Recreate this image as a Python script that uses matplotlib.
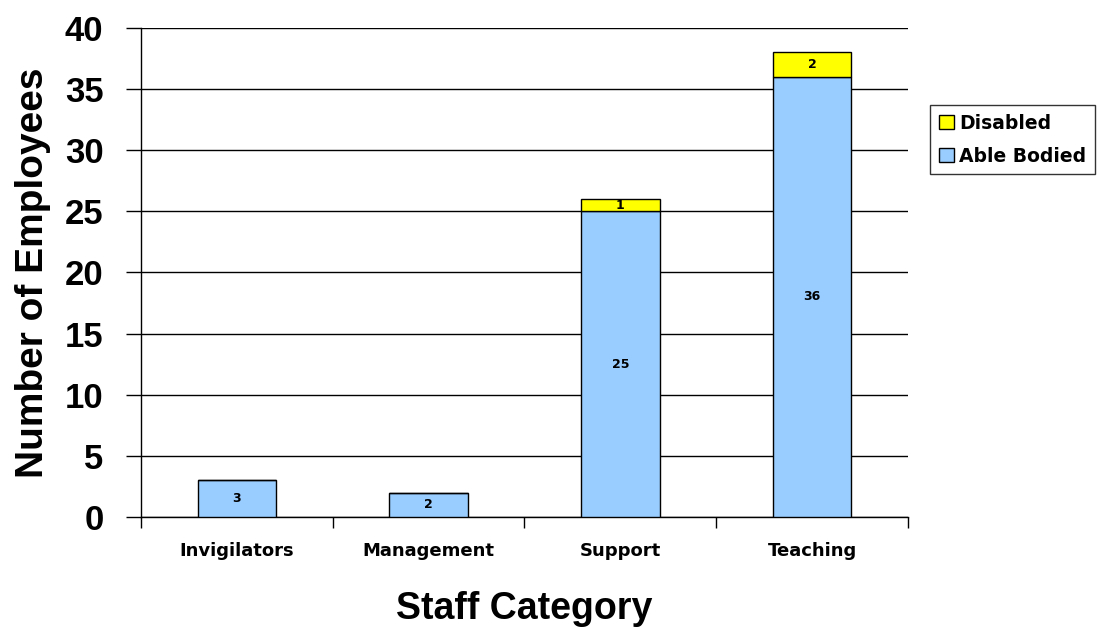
import numpy as np
import matplotlib.pyplot as plt

plt.rcParams['font.family'] = ['Liberation Sans', 'DejaVu Sans']

categories = ['Invigilators', 'Management', 'Support', 'Teaching']
able_bodied = [3, 2, 25, 36]
disabled = [0, 0, 1, 2]

fig = plt.figure(figsize=(10.97, 6.27), dpi=100)
ax = fig.add_axes([0.1285, 0.1754, 0.6992, 0.78])

x = np.arange(len(categories))
w = 0.41
b1 = ax.bar(x, able_bodied, w, color='#99CCFF', edgecolor='black', linewidth=1.0,
            label='Able Bodied', zorder=3)
b2 = ax.bar(x, disabled, w, bottom=able_bodied, color='#FFFF00', edgecolor='black',
            linewidth=1.0, label='Disabled', zorder=3)

# value labels in the middle of each segment
for i in range(len(categories)):
    ax.text(x[i], able_bodied[i] / 2, str(able_bodied[i]), ha='center', va='center',
            fontsize=9, fontweight='bold', family='DejaVu Sans', zorder=4)
    if disabled[i] > 0:
        ax.text(x[i], able_bodied[i] + disabled[i] / 2, str(disabled[i]), ha='center',
                va='center', fontsize=9, fontweight='bold', family='DejaVu Sans', zorder=4)

ax.set_xlim(-0.5, len(categories) - 0.5)
ax.set_ylim(0, 40)
ax.set_yticks(np.arange(0, 41, 5))
ax.yaxis.grid(True, color='black', linewidth=1.0, zorder=0)
ax.tick_params(axis='y', length=11, width=1.0, labelsize=25, pad=16)
for lab in ax.get_yticklabels():
    lab.set_fontweight('bold')

ax.set_xticks(x)
ax.set_xticklabels(categories, fontsize=13, fontweight='bold', family='DejaVu Sans')
ax.set_xticks(np.arange(-0.5, len(categories)), minor=True)
ax.tick_params(axis='x', which='major', length=0, pad=18)
ax.tick_params(axis='x', which='minor', length=8, width=1.0)

for s in ['top', 'right']:
    ax.spines[s].set_visible(False)
ax.spines['left'].set_linewidth(1.0)
ax.spines['bottom'].set_linewidth(1.0)

ax.set_xlabel('Staff Category', fontsize=27, fontweight='bold', labelpad=22)
ax.set_ylabel('Number of Employees', fontsize=28, fontweight='bold', labelpad=10)

leg = fig.legend(handles=[b2, b1], labels=['Disabled', 'Able Bodied'],
                 loc='upper left', bbox_to_anchor=(0.848, 0.832),
                 prop={'family': 'DejaVu Sans', 'weight': 'bold', 'size': 13.5},
                 frameon=True, fancybox=False, edgecolor='black',
                 handlelength=0.8, handleheight=0.8, handletextpad=0.3,
                 borderpad=0.45, labelspacing=0.75, borderaxespad=0)
leg.get_frame().set_linewidth(1.0)

fig.savefig('out.png', dpi=100)
